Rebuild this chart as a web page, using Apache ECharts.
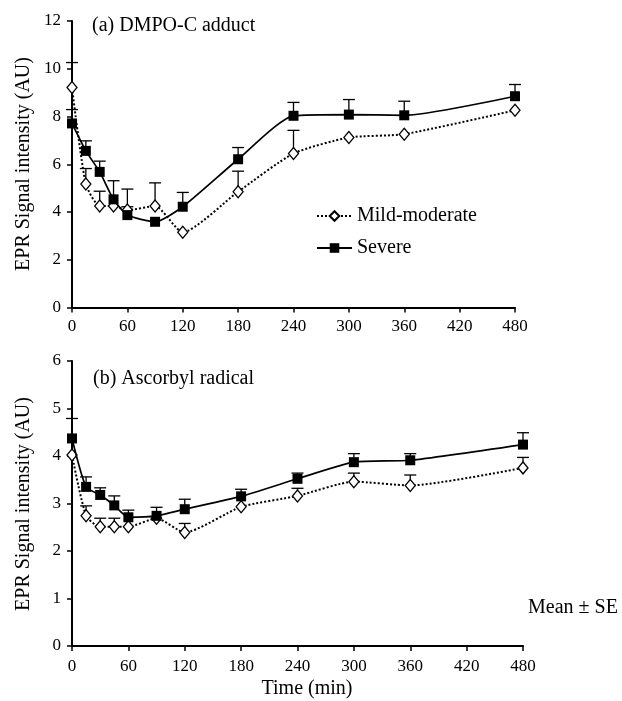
<!DOCTYPE html>
<html>
<head>
<meta charset="utf-8">
<script src="https://cdn.jsdelivr.net/npm/echarts@6/dist/echarts.min.js"></script>
<style>
  html, body { margin: 0; padding: 0; background: #fff; }
  #chart { width: 622px; height: 701px; }
</style>
</head>
<body>
<div id="chart"></div>
<script>
// sampling times (min)
const times = [0, 15, 30, 45, 60, 90, 120, 180, 240, 300, 360, 480];

// (a) DMPO-C adduct
const dmpoMild = [9.21, 5.17, 4.25, 4.25, 4.08, 4.25, 3.15, 4.85, 6.45, 7.12, 7.26, 8.26];
const dmpoMildSE = [1.05, 0.65, 0.62, 0, 0.88, 0.97, 0, 0.86, 0.97, 0, 0, 0];
const dmpoSevere = [7.71, 6.56, 5.68, 4.53, 3.87, 3.59, 4.22, 6.21, 8.03, 8.08, 8.05, 8.85];
const dmpoSevereSE = [0.58, 0.42, 0.45, 0.78, 0.35, 0, 0.6, 0.49, 0.56, 0.63, 0.59, 0.49];

// (b) Ascorbyl radical
const ascMild = [4.02, 2.74, 2.51, 2.51, 2.51, 2.69, 2.39, 2.93, 3.16, 3.46, 3.38, 3.75];
const ascMildSE = [0, 0.21, 0.18, 0.18, 0, 0, 0.19, 0, 0.16, 0.18, 0.22, 0.22];
const ascSevere = [4.37, 3.35, 3.18, 2.96, 2.71, 2.74, 2.88, 3.15, 3.52, 3.87, 3.91, 4.24];
const ascSevereSE = [0.42, 0.21, 0.15, 0.2, 0.15, 0.18, 0.21, 0.15, 0.12, 0.18, 0.14, 0.25];

const FONT = 'Liberation Serif';

function pairs(ys) {
    return times.map((t, i) => [t, ys[i]]);
}

function triples(ys, se) {
    return times.map((t, i) => [t, ys[i], se[i]]);
}

function errorBars(idx, ys, se) {
    return {
        type: 'custom',
        xAxisIndex: idx,
        yAxisIndex: idx,
        silent: true,
        z: 1,
        encode: {x: 0, y: 1},
        data: triples(ys, se),
        renderItem: function (params, api) {
            const t = api.value(0), v = api.value(1), e = api.value(2);
            if (!e) return;
            const p0 = api.coord([t, v]);
            const p1 = api.coord([t, v + e]);
            const st = {stroke: '#000', lineWidth: 1.3};
            return {
                type: 'group',
                children: [
                    {type: 'line', shape: {x1: p0[0], y1: p0[1], x2: p1[0], y2: p1[1]}, style: st},
                    {type: 'line', shape: {x1: p1[0] - 6, y1: p1[1], x2: p1[0] + 6, y2: p1[1]}, style: st}
                ]
            };
        }
    };
}

function mildLine(idx, ys) {
    return {
        name: 'Mild-moderate',
        type: 'line',
        xAxisIndex: idx,
        yAxisIndex: idx,
        data: pairs(ys),
        smooth: 0.2,
        symbol: 'diamond',
        symbolSize: [10, 12],
        z: 3,
        lineStyle: {color: '#000', width: 2, type: 'dotted'},
        itemStyle: {color: '#fff', borderColor: '#000', borderWidth: 1.3}
    };
}

function severeLine(idx, ys) {
    return {
        name: 'Severe',
        type: 'line',
        xAxisIndex: idx,
        yAxisIndex: idx,
        data: pairs(ys),
        smooth: 0.2,
        symbol: 'rect',
        symbolSize: 10,
        z: 4,
        lineStyle: {color: '#000', width: 1.7, type: 'solid'},
        itemStyle: {color: '#000', borderColor: '#000', borderWidth: 0}
    };
}

function xAxis(idx, margin) {
    return {
        type: 'value', gridIndex: idx, min: 0, max: 480, interval: 60,
        axisLine: {lineStyle: {color: '#000', width: 2}},
        axisTick: {length: 5, lineStyle: {color: '#000', width: 1.5}},
        axisLabel: {color: '#000', fontFamily: FONT, fontSize: 17, margin: margin},
        splitLine: {show: false}
    };
}

function yAxis(idx, max, step) {
    return {
        type: 'value', gridIndex: idx, min: 0, max: max, interval: step,
        axisLine: {show: true, lineStyle: {color: '#000', width: 2}},
        axisTick: {show: true, length: 5, lineStyle: {color: '#000', width: 1.5}},
        axisLabel: {color: '#000', fontFamily: FONT, fontSize: 17, margin: 11},
        splitLine: {show: false}
    };
}

const chart = echarts.init(document.getElementById('chart'));
chart.setOption({
    animation: false,
    backgroundColor: '#fff',
    grid: [
        {left: 72, top: 21, width: 443, height: 286.5},
        {left: 72, top: 361, width: 451, height: 285}
    ],
    xAxis: [xAxis(0, 11), xAxis(1, 12)],
    yAxis: [yAxis(0, 12, 2), yAxis(1, 6, 1)],
    legend: {
        data: ['Mild-moderate', 'Severe'],
        orient: 'vertical',
        left: 311,
        top: 201,
        itemWidth: 35,
        itemHeight: 12,
        itemGap: 12,
        textStyle: {color: '#000', fontFamily: FONT, fontSize: 20}
    },
    graphic: [
        {type: 'text', left: 92, top: 16,
            style: {text: '(a) DMPO-C adduct', font: '20px "Liberation Serif"', fill: '#000'}},
        {type: 'text', left: 93, top: 369,
            style: {text: '(b) Ascorbyl radical', font: '20px "Liberation Serif"', fill: '#000'}},
        {type: 'text', x: 24, y: 164, rotation: Math.PI / 2,
            style: {text: 'EPR Signal intensity (AU)', font: '20px "Liberation Serif"', fill: '#000',
                align: 'center', verticalAlign: 'middle'}},
        {type: 'text', x: 24, y: 504, rotation: Math.PI / 2,
            style: {text: 'EPR Signal intensity (AU)', font: '20px "Liberation Serif"', fill: '#000',
                align: 'center', verticalAlign: 'middle'}},
        {type: 'text', x: 307, y: 689,
            style: {text: 'Time (min)', font: '20px "Liberation Serif"', fill: '#000',
                align: 'center', verticalAlign: 'middle'}},
        {type: 'text', x: 528, y: 608,
            style: {text: 'Mean ± SE', font: '20px "Liberation Serif"', fill: '#000',
                align: 'left', verticalAlign: 'middle'}}
    ],
    series: [
        errorBars(0, dmpoMild, dmpoMildSE),
        errorBars(0, dmpoSevere, dmpoSevereSE),
        mildLine(0, dmpoMild),
        severeLine(0, dmpoSevere),
        errorBars(1, ascMild, ascMildSE),
        errorBars(1, ascSevere, ascSevereSE),
        mildLine(1, ascMild),
        severeLine(1, ascSevere)
    ]
});
</script>
</body>
</html>
